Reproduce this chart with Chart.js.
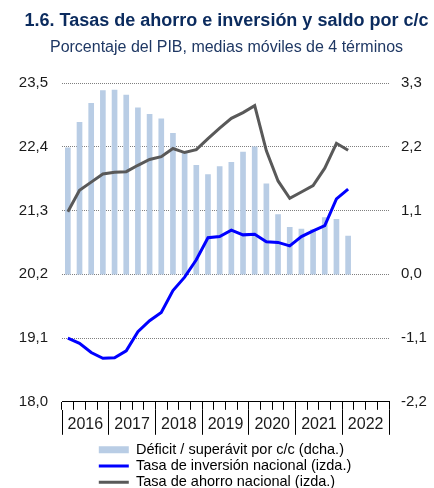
<!DOCTYPE html>
<html>
<head>
<meta charset="utf-8">
<script src="https://cdn.jsdelivr.net/npm/chart.js@4/dist/chart.umd.min.js"></script>
<style>
  html, body { margin: 0; padding: 0; background: #fff; }
  #wrap { width: 434px; height: 488px; }
</style>
</head>
<body>
<div id="wrap"><canvas id="chart"></canvas></div>
<script>
// quarters 2016-2022 (x axis), years for the lower label row
const quarters = []
const years = ['2016', '2017', '2018', '2019', '2020', '2021', '2022']
for (const y of years) for (let q = 1; q <= 4; ++q) quarters.push(y + '-T' + q)

// 2016-T1 .. 2022-T1
const saldoCC = [2.18, 2.62, 2.95, 3.17, 3.18, 3.09, 2.87, 2.76, 2.68, 2.43, 2.09, 1.88, 1.72,
	1.86, 1.93, 2.11, 2.20, 1.56, 1.03, 0.81, 0.78, 0.77, 0.98, 0.95, 0.66]
const inversion = [19.10, 19.01, 18.85, 18.75, 18.76, 18.88, 19.21, 19.40, 19.54, 19.92, 20.15, 20.45, 20.83,
	20.85, 20.96, 20.88, 20.89, 20.76, 20.75, 20.69, 20.85, 20.95, 21.04, 21.50, 21.67]
const ahorro = [21.28, 21.65, 21.79, 21.93, 21.96, 21.97, 22.08, 22.18, 22.23, 22.37, 22.30, 22.35, 22.54,
	22.72, 22.89, 22.99, 23.11, 22.33, 21.81, 21.51, 21.62, 21.73, 22.03, 22.46, 22.34]

const font = "'Liberation Sans', Arial, sans-serif"
const fmt = v => (Math.round(v * 10) / 10 + 0).toFixed(1).replace('.', ',')

// put the legend column where the original has it
const moveLegend = {
	id: 'moveLegend',
	afterLayout(chart) {
		const lg = chart.legend
		lg.left += 78; lg.right += 78
		lg.top += 11.6; lg.bottom += 11.6
	}
}

new Chart(document.getElementById('chart'), {
	type: 'bar',
	data: {
		labels: quarters,
		datasets: [{
			type: 'bar',
			label: 'Déficit / superávit por c/c (dcha.)',
			data: saldoCC,
			yAxisID: 'y1',
			backgroundColor: '#b9cde5',
			borderWidth: 0,
			barThickness: 5,
			pointStyle: 'rect',
			order: 3
		}, {
			type: 'line',
			label: 'Tasa de inversión nacional (izda.)',
			data: inversion,
			yAxisID: 'y',
			borderColor: '#0000ff',
			backgroundColor: '#0000ff',
			borderWidth: 3,
			pointRadius: 0,
			tension: 0,
			pointStyle: 'line',
			order: 1
		}, {
			type: 'line',
			label: 'Tasa de ahorro nacional (izda.)',
			data: ahorro,
			yAxisID: 'y',
			borderColor: '#595959',
			backgroundColor: '#595959',
			borderWidth: 3,
			pointRadius: 0,
			tension: 0,
			pointStyle: 'line',
			order: 2
		}]
	},
	options: {
		responsive: true,
		maintainAspectRatio: false,
		animation: false,
		layout: { padding: { left: 19, right: 0, top: 0, bottom: 0 } },
		plugins: {
			title: {
				display: true,
				text: '1.6. Tasas de ahorro e inversión y saldo por c/c',
				color: '#0b2b5e',
				font: { family: font, size: 18, weight: 'bold' },
				padding: { top: 10.6, bottom: 6.1 }
			},
			subtitle: {
				display: true,
				text: 'Porcentaje del PIB, medias móviles de 4 términos',
				color: '#1f3864',
				font: { family: font, size: 16 },
				padding: { top: 0, bottom: 25.5 }
			},
			legend: {
				position: 'bottom',
				align: 'start',
				labels: {
					usePointStyle: true,
					pointStyleWidth: 30,
					boxHeight: 7,
					padding: 1.8,
					color: '#000',
					font: { family: font, size: 14.5 },
					sort: (a, b) => a.datasetIndex - b.datasetIndex
				}
			},
			tooltip: { enabled: false }
		},
		scales: {
			x: {
				type: 'category',
				position: 'bottom',
				offset: true,
				grid: { offset: true, drawOnChartArea: false, tickLength: 8, color: '#000', tickColor: '#000' },
				border: { display: true, color: '#000', width: 1 },
				ticks: { display: false }
			},
			xYears: {
				type: 'category',
				position: 'bottom',
				labels: years,
				offset: true,
				grid: { offset: true, drawOnChartArea: false, tickLength: 25, color: '#000', tickColor: '#000' },
				border: { display: false },
				ticks: {
					color: '#1a1a1a',
					font: { family: font, size: 16 },
					padding: -19.6,
					autoSkip: false,
					maxRotation: 0
				},
				afterFit: s => { s.height = 19.3 }
			},
			y: {
				position: 'left',
				min: 18,
				max: 23.5,
				ticks: {
					stepSize: 1.1,
					padding: 14,
					color: '#1a1a1a',
					font: { family: font, size: 15 },
					callback: v => fmt(v)
				},
				grid: { color: '#7f7f7f', drawTicks: false, lineWidth: 1 },
				border: { display: false, dash: [1, 1] },
				afterFit: s => { s.width = 43 }
			},
			y1: {
				position: 'right',
				min: -2.2,
				max: 3.3,
				ticks: {
					stepSize: 1.1,
					padding: 12,
					color: '#1a1a1a',
					font: { family: font, size: 15 },
					callback: v => fmt(v)
				},
				grid: { display: false, drawTicks: false },
				border: { display: false },
				afterFit: s => { s.width = 45 }
			}
		}
	},
	plugins: [moveLegend]
})
</script>
</body>
</html>
